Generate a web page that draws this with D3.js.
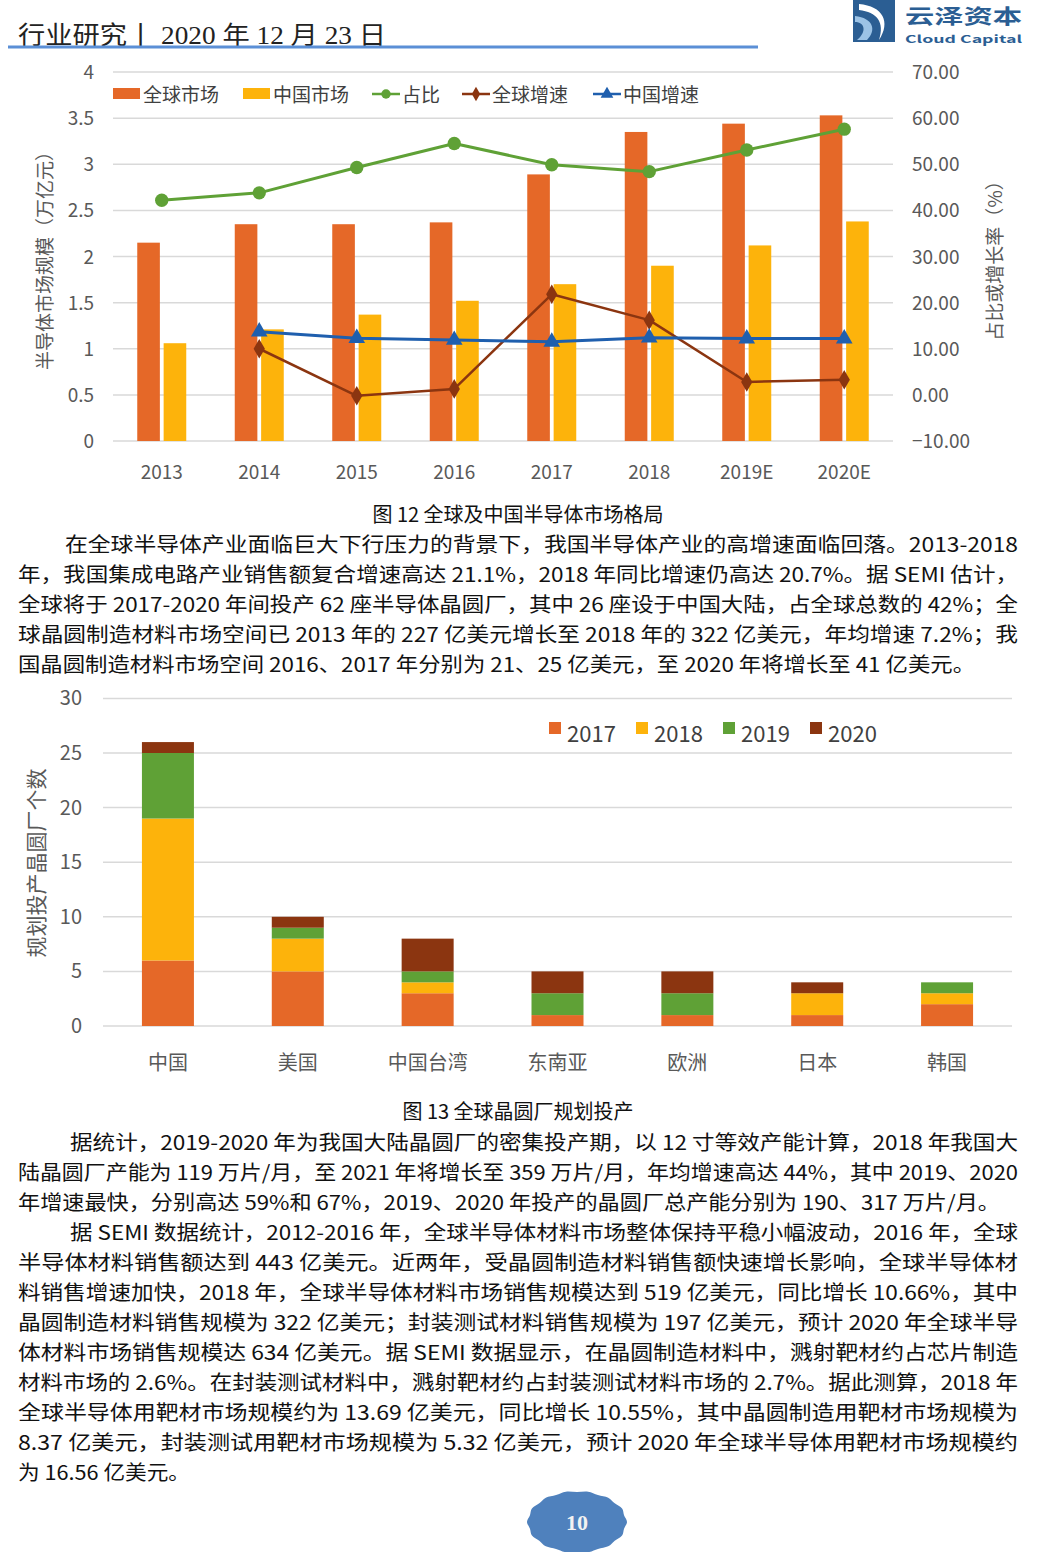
<!DOCTYPE html>
<html>
<head>
<meta charset="utf-8">
<script src="https://cdn.jsdelivr.net/npm/d3@7"></script>
<style>
body { margin: 0; background: #fff; }
svg { display: block; }
</style>
</head>
<body>
<svg id="page" width="1046" height="1552"></svg>
<script>
// ---- chart 1 data (图12)
var years = ["2013", "2014", "2015", "2016", "2017", "2018", "2019E", "2020E"];
var globalMarket = [2.15, 2.35, 2.35, 2.37, 2.89, 3.35, 3.44, 3.53];
var chinaMarket = [1.06, 1.21, 1.37, 1.52, 1.70, 1.90, 2.12, 2.38];
var share = [42.2, 43.8, 49.3, 54.5, 49.9, 48.4, 53.1, 57.6];
var globalGrowth = [null, 10.0, -0.2, 1.3, 21.8, 16.2, 2.8, 3.3];
var chinaGrowth = [null, 13.7, 12.3, 11.9, 11.5, 12.4, 12.2, 12.2];
var leftTicks = [0, 0.5, 1, 1.5, 2, 2.5, 3, 3.5, 4];
var rightTicks = [-10, 0, 10, 20, 30, 40, 50, 60, 70];

// ---- chart 2 data (图13)
var regions = ["中国", "美国", "中国台湾", "东南亚", "欧洲", "日本", "韩国"];
var fab2017 = [6, 5, 3, 1, 1, 1, 2];
var fab2018 = [13, 3, 1, 0, 0, 2, 1];
var fab2019 = [6, 1, 1, 2, 2, 0, 1];
var fab2020 = [1, 1, 3, 2, 2, 1, 0];
var fabYears = ["2017", "2018", "2019", "2020"];
var fabTicks = [0, 5, 10, 15, 20, 25, 30];

// ---- page text
var paraTop = [
	"在全球半导体产业面临巨大下行压力的背景下，我国半导体产业的高增速面临回落。2013-2018",
	"年，我国集成电路产业销售额复合增速高达 21.1%，2018 年同比增速仍高达 20.7%。据 SEMI 估计，",
	"全球将于 2017-2020 年间投产 62 座半导体晶圆厂，其中 26 座设于中国大陆，占全球总数的 42%；全",
	"球晶圆制造材料市场空间已 2013 年的 227 亿美元增长至 2018 年的 322 亿美元，年均增速 7.2%；我",
	"国晶圆制造材料市场空间 2016、2017 年分别为 21、25 亿美元，至 2020 年将增长至 41 亿美元。"
];
var paraTopEnds = [1018, 1018, 1018, 1018, 975];

var paraBottom = [
	"据统计，2019-2020 年为我国大陆晶圆厂的密集投产期，以 12 寸等效产能计算，2018 年我国大",
	"陆晶圆厂产能为 119 万片/月，至 2021 年将增长至 359 万片/月，年均增速高达 44%，其中 2019、2020",
	"年增速最快，分别高达 59%和 67%，2019、2020 年投产的晶圆厂总产能分别为 190、317 万片/月。",
	"据 SEMI 数据统计，2012-2016 年，全球半导体材料市场整体保持平稳小幅波动，2016 年，全球",
	"半导体材料销售额达到 443 亿美元。近两年，受晶圆制造材料销售额快速增长影响，全球半导体材",
	"料销售增速加快，2018 年，全球半导体材料市场销售规模达到 519 亿美元，同比增长 10.66%，其中",
	"晶圆制造材料销售规模为 322 亿美元；封装测试材料销售规模为 197 亿美元，预计 2020 年全球半导",
	"体材料市场销售规模达 634 亿美元。据 SEMI 数据显示，在晶圆制造材料中，溅射靶材约占芯片制造",
	"材料市场的 2.6%。在封装测试材料中，溅射靶材约占封装测试材料市场的 2.7%。据此测算，2018 年",
	"全球半导体用靶材市场规模约为 13.69 亿美元，同比增长 10.55%，其中晶圆制造用靶材市场规模为",
	"8.37 亿美元，封装测试用靶材市场规模为 5.32 亿美元，预计 2020 年全球半导体用靶材市场规模约",
	"为 16.56 亿美元。"
];
var paraBottomStarts = [70, 18, 18, 70, 18, 18, 18, 18, 18, 18, 18, 18];
var paraBottomEnds = [1018, 1018, 1000, 1018, 1018, 1018, 1018, 1018, 1018, 1018, 1018, 190];

var ORANGE = "#E56828";
var YELLOW = "#FDB30B";
var GREEN = "#5FA136";
var BROWN = "#8B3510";
var BLUE = "#1F5FAE";
var GRID = "#D9D9D9";
var AXIS_TXT = "#595959";
var FONT = "'Noto Sans CJK SC', 'Noto Sans', sans-serif";
var SERIF = "'Liberation Serif', 'Noto Sans CJK SC', serif";

var svg = d3.select("#page");

// ================= header =================
svg.append("text")
	.attr("x", 18).attr("y", 44)
	.attr("font-family", SERIF).attr("font-size", 25).attr("fill", "#222")
	.attr("textLength", 368).attr("lengthAdjust", "spacingAndGlyphs")
	.text("行业研究丨 2020 年 12 月 23 日");
svg.append("line")
	.attr("x1", 8).attr("x2", 758).attr("y1", 47).attr("y2", 47)
	.attr("stroke", "#5B8FD6").attr("stroke-width", 3);

// logo
var logo = svg.append("g").attr("transform", "translate(853,0)");
logo.append("path")
	.attr("d", "M0,0 H42 V42 H0 Z")
	.attr("fill", "#2B5E93");
logo.append("path")
	.attr("d", "M6,4 C30,6 38,22 26,40 C32,22 24,12 6,10 Z")
	.attr("fill", "#fff");
logo.append("path")
	.attr("d", "M2,16 C20,18 24,30 14,40 L4,40 C14,32 12,22 2,22 Z")
	.attr("fill", "#9CC3E6");
svg.append("text")
	.attr("x", 905).attr("y", 24)
	.attr("font-family", FONT).attr("font-weight", "bold").attr("font-size", 20).attr("fill", "#2B5E93")
	.attr("textLength", 117).attr("lengthAdjust", "spacingAndGlyphs")
	.text("云泽资本");
svg.append("text")
	.attr("x", 905).attr("y", 43)
	.attr("font-family", FONT).attr("font-weight", "bold").attr("font-size", 10.5).attr("fill", "#2B5E93")
	.attr("textLength", 117).attr("lengthAdjust", "spacingAndGlyphs")
	.text("Cloud Capital");

// ================= chart 1 =================
var c1 = svg.append("g").attr("font-family", FONT);

var x1 = d3.scaleBand().domain(years).range([113, 893]);
var yL = d3.scaleLinear().domain([0, 4]).range([441, 72]);
var yR = d3.scaleLinear().domain([-10, 70]).range([441, 72]);
var inner = d3.scaleBand().domain(["g", "c"]).range([0, 49]).paddingInner(7 / 49);
var groupOff = (x1.bandwidth() - 49) / 2;

c1.selectAll(".grid1").data(leftTicks).enter().append("line")
	.attr("x1", 113).attr("x2", 893)
	.attr("y1", function(d) { return yL(d); }).attr("y2", function(d) { return yL(d); })
	.attr("stroke", GRID).attr("stroke-width", 1.5);

c1.selectAll(".lt").data(leftTicks).enter().append("text")
	.attr("x", 94).attr("y", function(d) { return yL(d) + 7; })
	.attr("text-anchor", "end").attr("font-size", 19).attr("fill", AXIS_TXT)
	.text(function(d) { return d; });

c1.selectAll(".rt").data(rightTicks).enter().append("text")
	.attr("x", 912).attr("y", function(d) { return yR(d) + 7; })
	.attr("font-size", 19).attr("fill", AXIS_TXT)
	.text(function(d) { return d3.format(".2f")(d); });

c1.selectAll(".xt").data(years).enter().append("text")
	.attr("x", function(d) { return x1(d) + x1.bandwidth() / 2; }).attr("y", 479)
	.attr("text-anchor", "middle").attr("font-size", 19).attr("fill", AXIS_TXT)
	.text(function(d) { return d; });

c1.append("text")
	.attr("transform", "translate(52,256) rotate(-90)")
	.attr("text-anchor", "middle").attr("font-size", 19).attr("fill", AXIS_TXT)
	.text("半导体市场规模（万亿元）");
c1.append("text")
	.attr("transform", "translate(1002,256) rotate(-90)")
	.attr("text-anchor", "middle").attr("font-size", 19).attr("fill", AXIS_TXT)
	.text("占比或增长率（%）");

// bars
c1.selectAll(".gbar").data(years).enter().append("rect")
	.attr("x", function(d) { return x1(d) + groupOff + inner("g"); })
	.attr("width", inner.bandwidth())
	.attr("y", function(d, i) { return yL(globalMarket[i]); })
	.attr("height", function(d, i) { return yL(0) - yL(globalMarket[i]); })
	.attr("fill", ORANGE);
c1.selectAll(".cbar").data(years).enter().append("rect")
	.attr("x", function(d) { return x1(d) + groupOff + inner("c"); })
	.attr("width", inner.bandwidth())
	.attr("y", function(d, i) { return yL(chinaMarket[i]); })
	.attr("height", function(d, i) { return yL(0) - yL(chinaMarket[i]); })
	.attr("fill", YELLOW);

function cx1(i) { return x1(years[i]) + x1.bandwidth() / 2; }

function drawSeries(vals, color, width, symbol, size) {
	var pts = [];
	for (var i = 0; i < vals.length; i++) {
		if (vals[i] !== null) pts.push([cx1(i), yR(vals[i])]);
	}
	c1.append("path")
		.attr("d", d3.line()(pts))
		.attr("fill", "none").attr("stroke", color).attr("stroke-width", width)
		.attr("stroke-linejoin", "round");
	c1.selectAll(null).data(pts).enter().append("path")
		.attr("transform", function(p) { return "translate(" + p[0] + "," + p[1] + ")"; })
		.attr("d", d3.symbol().type(symbol).size(size)())
		.attr("fill", color);
}

drawSeries(share, GREEN, 3, d3.symbolCircle, 140);
drawSeries(globalGrowth, BROWN, 2.5, d3.symbolDiamond, 110);
drawSeries(chinaGrowth, BLUE, 3, d3.symbolTriangle, 120);

// legend chart 1
var leg1 = c1.append("g").attr("font-size", 19).attr("fill", "#404040");
var legItems = [
	{ name: "全球市场", type: "rect", color: ORANGE, x: 113 },
	{ name: "中国市场", type: "rect", color: YELLOW, x: 243 },
	{ name: "占比", type: "line", color: GREEN, x: 372, sym: d3.symbolCircle, size: 70 },
	{ name: "全球增速", type: "line", color: BROWN, x: 462, sym: d3.symbolDiamond, size: 60 },
	{ name: "中国增速", type: "line", color: BLUE, x: 593, sym: d3.symbolTriangle, size: 70 }
];
legItems.forEach(function(it) {
	if (it.type === "rect") {
		leg1.append("rect").attr("x", it.x).attr("y", 88).attr("width", 27).attr("height", 11).attr("fill", it.color);
	} else {
		leg1.append("line").attr("x1", it.x).attr("x2", it.x + 28).attr("y1", 94).attr("y2", 94)
			.attr("stroke", it.color).attr("stroke-width", 2.5);
		leg1.append("path").attr("transform", "translate(" + (it.x + 14) + ",94)")
			.attr("d", d3.symbol().type(it.sym).size(it.size)()).attr("fill", it.color);
	}
	leg1.append("text").attr("x", it.x + 30).attr("y", 102).attr("fill", "#404040").text(it.name);
});

// captions + paragraphs
function caption(txt, y) {
	svg.append("text")
		.attr("x", 518).attr("y", y).attr("text-anchor", "middle")
		.attr("font-family", FONT).attr("font-size", 20).attr("fill", "#111")
		.text(txt);
}
function paragraph(lines, starts, ends, y0) {
	svg.append("g").selectAll("text").data(lines).enter().append("text")
		.attr("x", function(d, i) { return starts[i]; })
		.attr("y", function(d, i) { return y0 + i * 30; })
		.attr("font-family", FONT).attr("font-size", 20).attr("fill", "#111")
		.attr("textLength", function(d, i) { return ends[i] - starts[i]; })
		.attr("lengthAdjust", "spacingAndGlyphs")
		.text(function(d) { return d; });
}

caption("图 12 全球及中国半导体市场格局", 522);
paragraph(paraTop, [65, 18, 18, 18, 18], paraTopEnds, 552);

// ================= chart 2 =================
var c2 = svg.append("g").attr("font-family", FONT);
var x2 = d3.scaleBand().domain(regions).range([103, 1012]);
var y2 = d3.scaleLinear().domain([0, 30]).range([1026, 698.4]);
var barW = 52;

c2.selectAll(".grid2").data(fabTicks).enter().append("line")
	.attr("x1", 103).attr("x2", 1012)
	.attr("y1", function(d) { return y2(d); }).attr("y2", function(d) { return y2(d); })
	.attr("stroke", GRID).attr("stroke-width", 1.5);

c2.selectAll(".lt2").data(fabTicks).enter().append("text")
	.attr("x", 82).attr("y", function(d) { return y2(d) + 7; })
	.attr("text-anchor", "end").attr("font-size", 20).attr("fill", AXIS_TXT)
	.text(function(d) { return d; });

c2.selectAll(".xt2").data(regions).enter().append("text")
	.attr("x", function(d) { return x2(d) + x2.bandwidth() / 2; }).attr("y", 1070)
	.attr("text-anchor", "middle").attr("font-size", 20).attr("fill", AXIS_TXT)
	.text(function(d) { return d; });

c2.append("text")
	.attr("transform", "translate(44,863) rotate(-90)")
	.attr("text-anchor", "middle").attr("font-size", 21).attr("fill", AXIS_TXT)
	.text("规划投产晶圆厂个数");

var fabColors = d3.scaleOrdinal().domain(fabYears).range([ORANGE, YELLOW, GREEN, BROWN]);
var fabRows = regions.map(function(r, i) {
	return { region: r, "2017": fab2017[i], "2018": fab2018[i], "2019": fab2019[i], "2020": fab2020[i] };
});
var stacked = d3.stack().keys(fabYears)(fabRows);

c2.selectAll(".ser").data(stacked).enter().append("g")
	.attr("fill", function(d) { return fabColors(d.key); })
	.selectAll("rect").data(function(d) { return d; }).enter().append("rect")
		.attr("x", function(d) { return x2(d.data.region) + (x2.bandwidth() - barW) / 2; })
		.attr("width", barW)
		.attr("y", function(d) { return y2(d[1]); })
		.attr("height", function(d) { return y2(d[0]) - y2(d[1]); });

var leg2x = [549, 636, 723, 810];
var leg2 = c2.append("g").selectAll("g").data(fabYears).enter().append("g");
leg2.append("rect")
	.attr("x", function(d, i) { return leg2x[i]; }).attr("y", 722)
	.attr("width", 12).attr("height", 12)
	.attr("fill", function(d) { return fabColors(d); });
leg2.append("text")
	.attr("x", function(d, i) { return leg2x[i] + 18; }).attr("y", 742)
	.attr("font-size", 22).attr("fill", "#404040")
	.text(function(d) { return d; });

caption("图 13 全球晶圆厂规划投产", 1119);
paragraph(paraBottom, paraBottomStarts, paraBottomEnds, 1150);

// ================= page number =================
var blob = [];
for (var k = 0; k < 28; k++) {
	var a = k / 28 * Math.PI * 2;
	var r = (k % 2 === 0) ? 1 : 0.965;
	blob.push([577 + Math.cos(a) * 50 * r, 1522 + Math.sin(a) * 31 * r]);
}
svg.append("path")
	.attr("d", d3.line().curve(d3.curveCardinalClosed)(blob))
	.attr("fill", "#4F81BD");
svg.append("text")
	.attr("x", 577).attr("y", 1530).attr("text-anchor", "middle")
	.attr("font-family", SERIF).attr("font-weight", "bold").attr("font-size", 22).attr("fill", "#F2F2F2")
	.text("10");
</script>
</body>
</html>
